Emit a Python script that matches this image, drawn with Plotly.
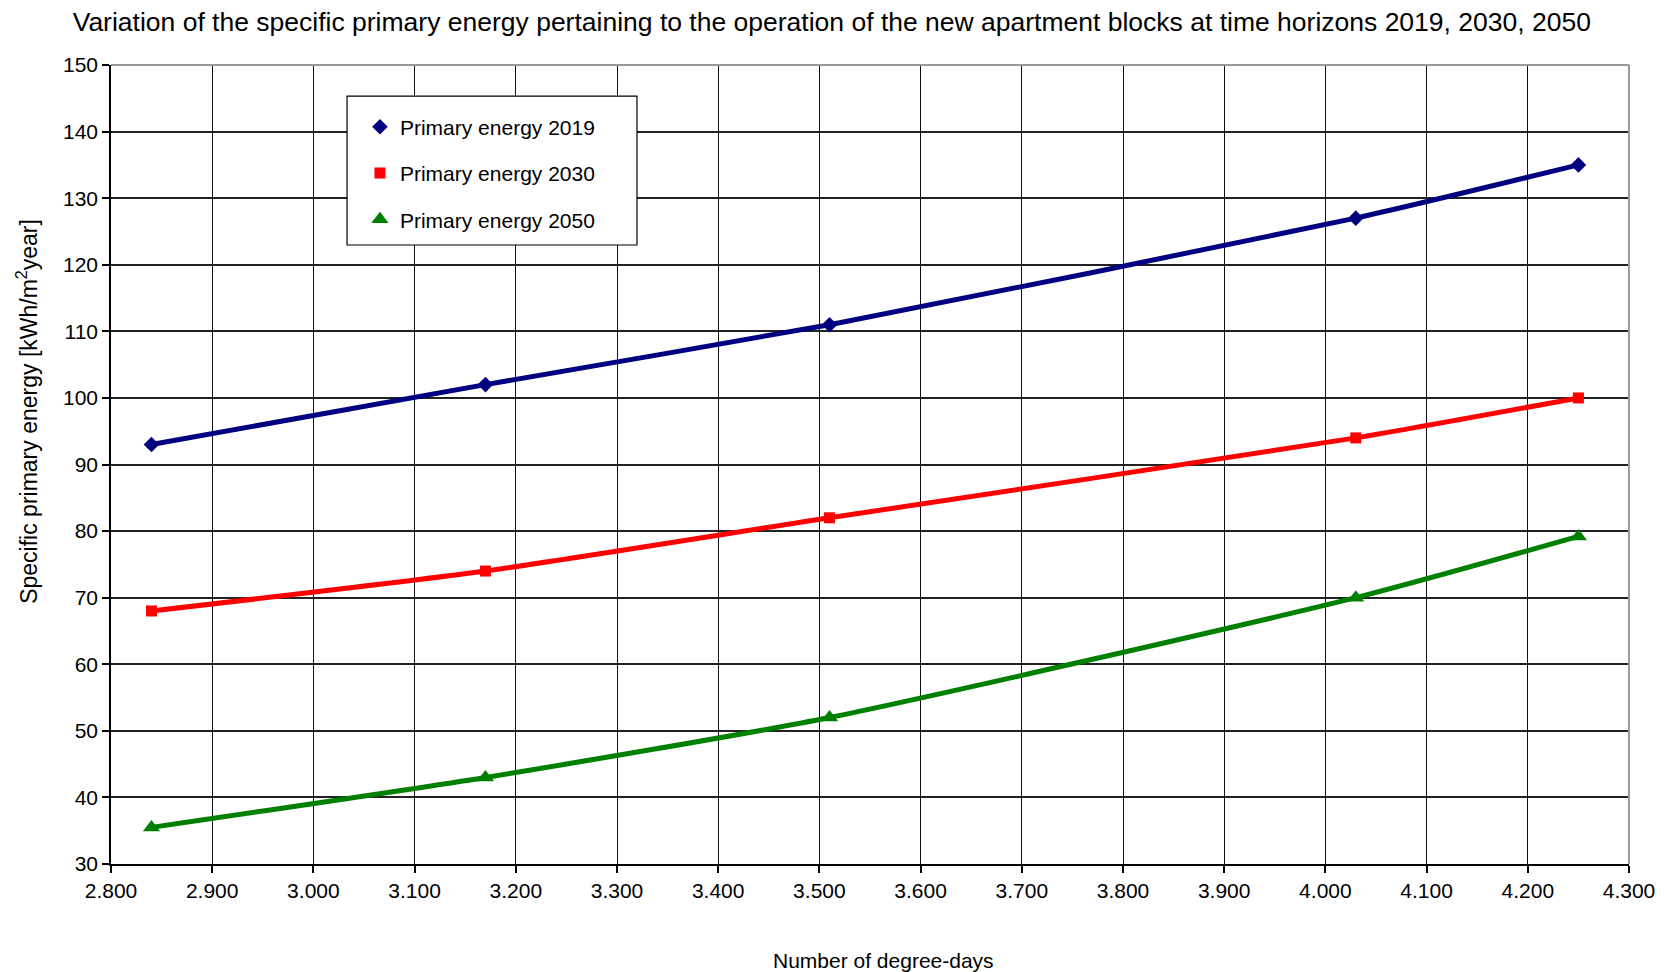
import plotly.graph_objects as go

degree_days = [2840, 3170, 3510, 4030, 4250]
pe_2019 = [93, 102, 111, 127, 135]
pe_2030 = [68, 74, 82, 94, 100]
pe_2050 = [35.5, 43, 52, 70, 79.2]

series = [
    ("Primary energy 2019", pe_2019, "#000080", "diamond", 12),
    ("Primary energy 2030", pe_2030, "#FF0000", "square", 11),
    ("Primary energy 2050", pe_2050, "#008000", "triangle-up", 15),
]

FONT = "Liberation Sans, Arial, sans-serif"

fig = go.Figure()
for i, (name, vals, col, sym, ms) in enumerate(series):
    fig.add_trace(go.Scatter(
        x=degree_days, y=vals, mode="lines", line=dict(color=col, width=5, shape="spline", smoothing=0.6),
        showlegend=False, hoverinfo="skip"))
    fig.add_trace(go.Scatter(
        x=degree_days, y=vals, mode="markers", name=name, legendgroup=f"g{i}",
        marker=dict(color=col, symbol=sym, size=ms)))

fig.add_shape(type="rect", xref="paper", yref="paper",
              x0=0.1555, x1=0.3465, y0=0.7747, y1=0.961,
              line=dict(color="#000", width=1.2), fillcolor="white", layer="above")

fig.update_layout(
    width=1672, height=972,
    margin=dict(l=111, r=43, t=65, b=108),
    paper_bgcolor="white", plot_bgcolor="white",
    separators=",.",
    font=dict(family=FONT, color="#000", size=20),
    title=dict(text="Variation of the specific primary energy pertaining to the operation of the new apartment blocks at time horizons 2019, 2030, 2050",
               x=0.4975, xanchor="center", y=0.978, yanchor="middle", font=dict(size=26.5, family=FONT)),
    showlegend=True,
    legend=dict(x=0.164, y=0.948, xanchor="left", yanchor="top", bgcolor="rgba(0,0,0,0)",
                borderwidth=0, font=dict(size=21, family=FONT), traceorder="grouped",
                tracegroupgap=16),
    xaxis=dict(range=[2800, 4300], dtick=100, tick0=2800, tickformat=",d",
               showgrid=True, gridcolor="#111", gridwidth=1,
               showline=True, linecolor="#000", linewidth=1.5, mirror=False,
               ticks="outside", ticklen=7, tickcolor="#000", tickwidth=1.5,
               tickfont=dict(size=21), zeroline=False),
    yaxis=dict(range=[30, 150], dtick=10, tick0=30,
               showgrid=True, gridcolor="#222", gridwidth=1.5,
               showline=True, linecolor="#000", linewidth=1.5,
               ticks="outside", ticklen=7, tickcolor="#000", tickwidth=1.5,
               tickfont=dict(size=21), zeroline=False),
)
fig.add_annotation(text="Number of degree-days", xref="paper", yref="paper",
                   x=0.5086, y=-0.1202, xanchor="center", yanchor="middle",
                   showarrow=False, font=dict(size=21, family=FONT))
fig.add_annotation(text="Specific primary energy [kWh/m<sup>2</sup>year]", xref="paper", yref="paper",
                   x=-0.0553, y=0.566, xanchor="center", yanchor="middle", textangle=-90,
                   showarrow=False, font=dict(size=23, family=FONT))
# gray top/right frame
fig.add_shape(type="line", xref="paper", yref="paper", x0=0, x1=1, y0=1, y1=1,
              line=dict(color="#999", width=2), layer="above")
fig.add_shape(type="line", xref="paper", yref="paper", x0=1, x1=1, y0=0, y1=1,
              line=dict(color="#999", width=2), layer="above")

fig.write_html("out.html")
